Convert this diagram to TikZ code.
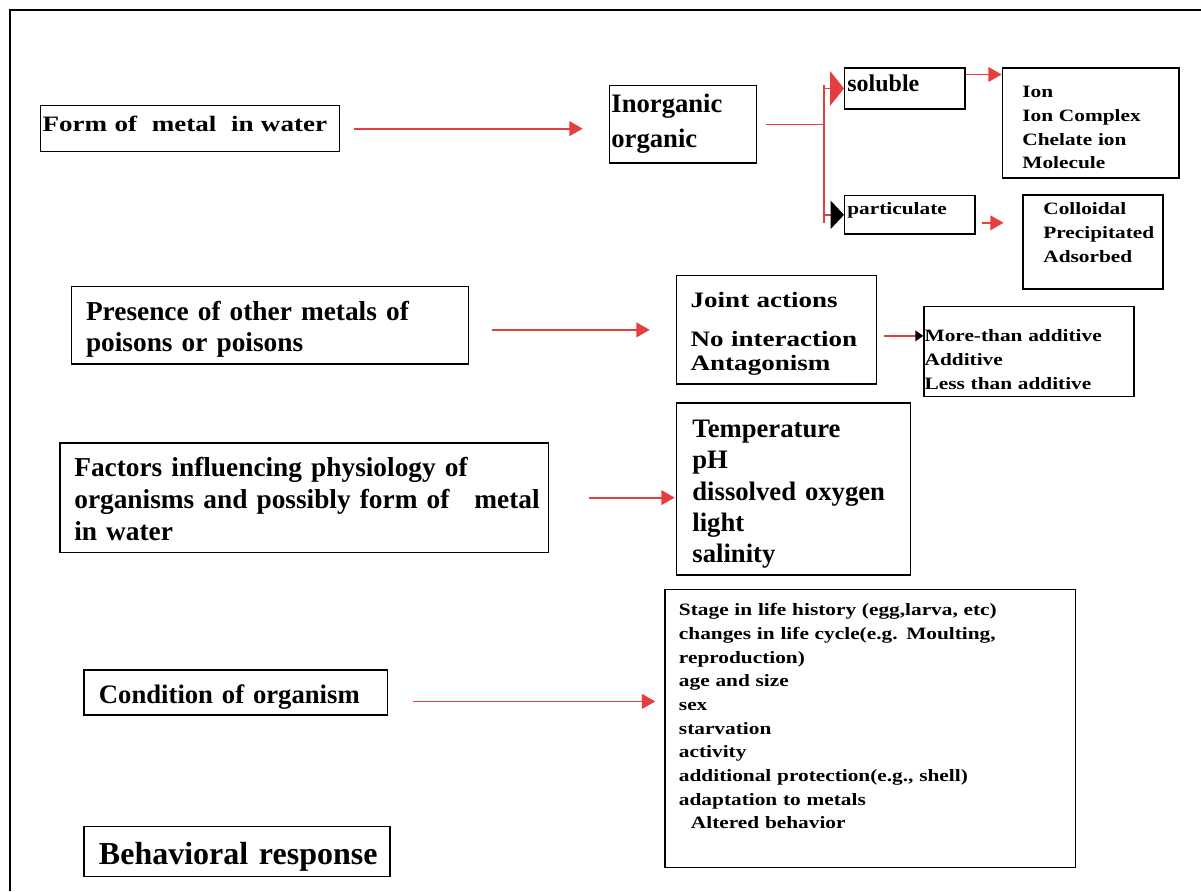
\documentclass[tikz,border=0pt]{standalone}
\usepackage{fontspec}
\setmainfont{Liberation Serif}
\newfontfamily\wideserif{Liberation Serif}[FakeStretch=1.23]
\usetikzlibrary{arrows.meta,calc}
\definecolor{arrowred}{RGB}{230,62,62}
\tikzset{
  box/.style={draw, line width=1pt, align=left, anchor=north west, inner ysep=0pt},
  redline/.style={draw=arrowred, line width=1.3pt},
  redarrow/.style={redline, -{Triangle[length=10pt,width=11pt]}},
}

\begin{document}
\begin{tikzpicture}[x=0.75pt,y=0.75pt,yscale=-1,xscale=1]
\useasboundingbox (0,0) rectangle (1201,891);

%Frame
\draw[line width=1.5pt] (10,891) -- (10,10) -- (1201,10);

% Box: form of metal
\node[box, font=\wideserif\bfseries\fontsize{16.5}{20}\selectfont, inner xsep=1.5pt, text width=221.25pt, text height=19.5pt, text depth=15pt] (form) at (40,105) {Form of\ \ metal\ \ in water};
% Box: inorganic / organic
\node[box, font=\bfseries\fontsize{20}{26}\selectfont, inner xsep=1.5pt, text width=107.5pt, text height=20.5pt, text depth=37.5pt] (inorg) at (608.7,85) {Inorganic\\organic};
% Box: soluble
\node[box, font=\bfseries\fontsize{18}{22}\selectfont, inner xsep=2pt, text width=86.2pt, text height=17.8pt, text depth=13pt] (soluble) at (844,67.3) {soluble};
% Box: particulate
\node[box, font=\wideserif\bfseries\fontsize{13}{16}\selectfont, inner xsep=2pt, text width=93.7pt, text height=14.25pt, text depth=14.5pt] (partic) at (844,195) {particulate};
% Box: soluble forms
\node[box, font=\wideserif\bfseries\fontsize{13}{17.9}\selectfont, inner xsep=15pt, text width=102.45pt, text height=22pt, text depth=60.5pt] (ion) at (1001.7,67.3) {Ion\\Ion Complex\\Chelate ion\\Molecule};
% Box: particulate forms
\node[box, font=\wideserif\bfseries\fontsize{13}{17.9}\selectfont, inner xsep=15.3pt, text width=74.4pt, text height=14.8pt, text depth=55.7pt] (colloid) at (1022.3,194.3) {Colloidal\\Precipitated\\Adsorbed};

% Box: other metals
\node[box, font=\bfseries\fontsize{20.5}{23.25}\selectfont, inner xsep=11pt, text width=275.6pt, text height=25.7pt, text depth=32.5pt] (presence) at (70.7,285.7) {Presence of other metals of\\poisons or poisons};
% Box: joint actions
\node[box, font=\wideserif\bfseries\fontsize{16.5}{18}\selectfont, inner xsep=10.7pt, text width=128.6pt, text height=23.8pt, text depth=57.5pt] (joint) at (675.7,275) {Joint actions\\[11.5pt]No interaction\\Antagonism};
% Box: additivity
\node[box, font=\wideserif\bfseries\fontsize{13}{17.75}\selectfont, inner xsep=0.5pt, text width=156.5pt, text height=26.25pt, text depth=41.25pt] (more) at (923.3,306) {More-than additive\\Additive\\Less than additive};

% Box: physiology factors
\node[box, font=\bfseries\fontsize{20.5}{24.1}\selectfont, inner xsep=10.7pt, text width=344.8pt, text height=25pt, text depth=57pt] (factors) at (59.4,442.3) {Factors influencing physiology of\\\mbox{organisms and possibly form of\hspace{18.75pt}metal}\\in water};
% Box: environment
\node[box, font=\bfseries\fontsize{20}{23.55}\selectfont, inner xsep=11.8pt, text width=151.9pt, text height=25.8pt, text depth=103.2pt] (temp) at (676,402.3) {Temperature\\pH\\dissolved oxygen\\light\\salinity};

% Box: condition
\node[box, font=\bfseries\fontsize{20}{24}\selectfont, inner xsep=11.25pt, text width=205pt, text height=25pt, text depth=8.7pt] (cond) at (83.3,669.3) {Condition of organism};
% Box: organism states
\node[box, font=\wideserif\bfseries\fontsize{13}{17.77}\selectfont, inner xsep=10.5pt, text width=287pt, text height=19.5pt, text depth=188.8pt] (stage) at (664.3,589) {Stage in life history (egg,larva, etc)\\changes in life cycle(e.g. Moulting,\\reproduction)\\age and size\\sex\\starvation\\activity\\additional protection(e.g., shell)\\adaptation to metals\\\hspace*{9pt}Altered behavior};
% Box: behavioral response
\node[box, font=\bfseries\fontsize{24}{28}\selectfont, inner xsep=11.25pt, text width=207pt, text height=28.7pt, text depth=8.8pt] (behav) at (83.3,825.7) {\mbox{Behavioral response}};

%Connectors
\coordinate (fork) at (824,122);
\coordinate (solout) at ($(soluble.east)+(0,-14)$);
\coordinate (partout) at ($(partic.east)+(0,8)$);
\coordinate (jointout) at ($(joint.east)+(0,6)$);
\coordinate (condout) at ($(cond.east)+(0,9)$);

\draw[redarrow, shorten <=10.5pt, shorten >=19.5pt] (form.east) -- (form.east -| inorg.west);
\draw[draw=arrowred, line width=0.8pt, shorten <=6.75pt] (inorg.east) -- (inorg.east -| fork);
\draw[redline] ($(fork |- soluble.west)+(0,-3)$) -- ($(fork |- partic.west)+(0,8)$);
\draw[redline, -{Triangle[length=10.5pt,width=26pt]}] (fork |- soluble.west) -- (soluble.west);
\draw[redline, -{Triangle[length=10pt,width=21pt,color=black]}] (fork |- partic.west) -- (partic.west);
\draw[redarrow] (solout) -- (solout -| ion.west);
\draw[redarrow, shorten <=4.5pt, shorten >=14pt] (partout) -- (partout -| colloid.west);

\draw[redarrow, shorten <=17.25pt, shorten >=19.5pt] (presence.east |- joint.west) -- (joint.west);
\draw[redline, shorten <=5.25pt, -{Triangle[length=6pt,width=8pt,color=black]}] (jointout) -- (jointout -| more.west);

\draw[redarrow, shorten <=30pt, shorten >=1pt] (factors.east) -- (factors.east -| temp.west);
\draw[redarrow, shorten <=18.75pt, shorten >=6.75pt] (condout) -- (condout -| stage.west);

\end{tikzpicture}
\end{document}
